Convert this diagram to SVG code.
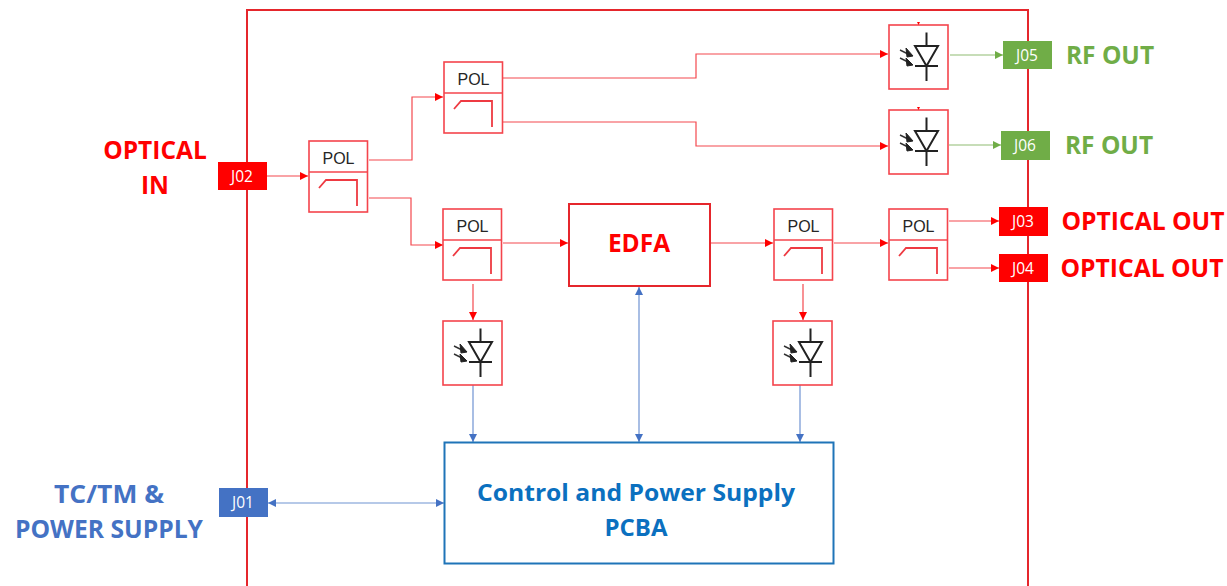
<svg xmlns="http://www.w3.org/2000/svg" width="1227" height="586" viewBox="0 0 1227 586">
<style>
text{font-family:"Open Sans","Noto Sans","Liberation Sans",sans-serif}
.box{fill:#fff;stroke:#f4444c;stroke-width:1.6}
.pl{font-family:"Liberation Sans",Arial,sans-serif;font-size:16px;fill:#262626;text-anchor:middle}
.div{stroke:#f4444c;stroke-width:1.6;fill:none}
.fil{stroke:#ee3a42;stroke-width:1.8;fill:none}
.r{fill:none;stroke:#f4484e;stroke-width:1.2}
.g{fill:none;stroke:#8fbc72;stroke-width:1.2}
.b{fill:none;stroke:#6f93d2;stroke-width:1.2}
.d{stroke:#222;stroke-width:2;fill:none}
.j{font-size:15.5px;fill:#fff;text-anchor:middle}
.red{font-weight:700;font-size:24.5px;fill:#f00;text-anchor:middle}
.grn{font-weight:700;font-size:24.5px;fill:#70ad47;text-anchor:middle}
.blu{font-weight:700;font-size:24.5px;fill:#4472c4;text-anchor:middle}
.pc{font-weight:700;font-size:24px;fill:#0b70bf;text-anchor:middle}
</style>
<defs>
<marker id="ar" markerUnits="userSpaceOnUse" markerWidth="9" markerHeight="9" refX="8" refY="4" orient="auto"><path d="M0 0L8 4L0 8Z" fill="#f00"/></marker>
<marker id="ag" markerUnits="userSpaceOnUse" markerWidth="9" markerHeight="9" refX="8" refY="4" orient="auto"><path d="M0 0L8 4L0 8Z" fill="#70ad47"/></marker>
<marker id="ab" markerUnits="userSpaceOnUse" markerWidth="9" markerHeight="9" refX="8" refY="4" orient="auto-start-reverse"><path d="M0 0L8 4L0 8Z" fill="#4472c4"/></marker>
<g id="pol"><rect class="box" x="0" y="0" width="58.500" height="71"/><path class="div" d="M0 31H59"/><path class="fil" d="M10 47L17 39H48V65"/><text class="pl" x="29.500" y="23">POL</text></g>
<g id="pd"><rect class="box" x="0" y="0" width="59" height="64"/><path class="d" d="M37.500 7.500V21M26 21H49L37.500 41ZM26 41H49M37.500 41V56"/><path d="M11 25L21 30M11 33L21 38" stroke="#333" stroke-width="1.400"/><path d="M17 23L24 31L18 32ZM17 33L24 40L18 41Z" fill="#222" stroke="#222"/></g>
</defs>
<g id="enclosure"><path d="M247 586V10H1028V586" fill="none" stroke="#e5262c" stroke-width="2"/></g>
<g id="connectors">
<path class="r" marker-end="url(#ar)" d="M267 176H308"/>
<path class="r" marker-end="url(#ar)" d="M369 160H412V97H443"/>
<path class="r" marker-end="url(#ar)" d="M369 198H411V245H443"/>
<path class="r" marker-end="url(#ar)" d="M503 78H696V54H888"/>
<path class="r" marker-end="url(#ar)" d="M503 122H696V146H888"/>
<path class="r" marker-end="url(#ar)" d="M503 243H568"/>
<path class="r" marker-end="url(#ar)" d="M711 243H773"/>
<path class="r" marker-end="url(#ar)" d="M834 243H888"/>
<path class="r" marker-end="url(#ar)" d="M949 221H999"/>
<path class="r" marker-end="url(#ar)" d="M949 268H999"/>
<path class="r" marker-end="url(#ar)" d="M473 284V320"/>
<path class="r" marker-end="url(#ar)" d="M803 284V320"/>
<path class="g" marker-end="url(#ag)" d="M950 55H1003"/>
<path class="g" marker-end="url(#ag)" d="M949 145H1001"/>
<path class="b" marker-end="url(#ab)" d="M473 385V442"/>
<path class="b" marker-end="url(#ab)" d="M800 385V442"/>
<path class="b" marker-start="url(#ab)" marker-end="url(#ab)" d="M639 287V442"/>
<path class="b" marker-start="url(#ab)" marker-end="url(#ab)" d="M268 503H444"/>
</g>
<g id="pol1"><use href="#pol" x="309" y="141"/></g>
<g id="pol2"><use href="#pol" x="444" y="62"/></g>
<g id="pol3"><use href="#pol" x="443" y="209"/></g>
<g id="pol4"><use href="#pol" x="774" y="209"/></g>
<g id="pol5"><use href="#pol" x="889" y="209"/></g>
<g id="pd1"><use href="#pd" x="889" y="25"/><path d="M917 22H920L918.500 25Z" fill="#f00"/></g>
<g id="pd2"><use href="#pd" x="889" y="110"/><path d="M917 107H920L918.500 110Z" fill="#f00"/></g>
<g id="pd3"><use href="#pd" x="443" y="321"/></g>
<g id="pd4"><use href="#pd" x="773" y="321"/></g>
<g id="edfa"><rect x="569" y="204" width="141" height="82" fill="#fff" stroke="#e5262c" stroke-width="2"/><text class="red" x="639" y="252">EDFA</text></g>
<g id="pcba"><rect x="444.500" y="442.500" width="389" height="121" fill="#fff" stroke="#1f74b8" stroke-width="2"/><text class="pc" x="636" y="501" textLength="318" lengthAdjust="spacingAndGlyphs">Control and Power Supply</text><text class="pc" x="636" y="536">PCBA</text></g>
<g id="j02"><rect x="218" y="162" width="49" height="28" fill="#f00"/><text class="j" x="242" y="182">J02</text></g>
<g id="j01"><rect x="219" y="488" width="49" height="29" fill="#4472c4"/><text class="j" x="243" y="508">J01</text></g>
<g id="j05"><rect x="1003" y="41" width="49" height="28" fill="#70ad47"/><text class="j" x="1027" y="61">J05</text></g>
<g id="j06"><rect x="1001" y="131" width="49" height="29" fill="#70ad47"/><text class="j" x="1025" y="151">J06</text></g>
<g id="j03"><rect x="999" y="207" width="49" height="29" fill="#f00"/><text class="j" x="1023" y="227">J03</text></g>
<g id="j04"><rect x="999" y="254" width="49" height="28" fill="#f00"/><text class="j" x="1023" y="274">J04</text></g>
<g id="labels">
<text class="red" x="155" y="159">OPTICAL</text><text class="red" x="155" y="194">IN</text>
<text class="blu" x="109" y="503" textLength="110" lengthAdjust="spacingAndGlyphs">TC/TM &amp;</text><text class="blu" x="109" y="538" textLength="188" lengthAdjust="spacingAndGlyphs">POWER SUPPLY</text>
<text class="grn" x="1110" y="64">RF OUT</text><text class="grn" x="1109" y="154">RF OUT</text>
<text class="red" x="1143" y="230" textLength="163" lengthAdjust="spacingAndGlyphs">OPTICAL OUT</text><text class="red" x="1142" y="277" textLength="163" lengthAdjust="spacingAndGlyphs">OPTICAL OUT</text>
</g>
</svg>
